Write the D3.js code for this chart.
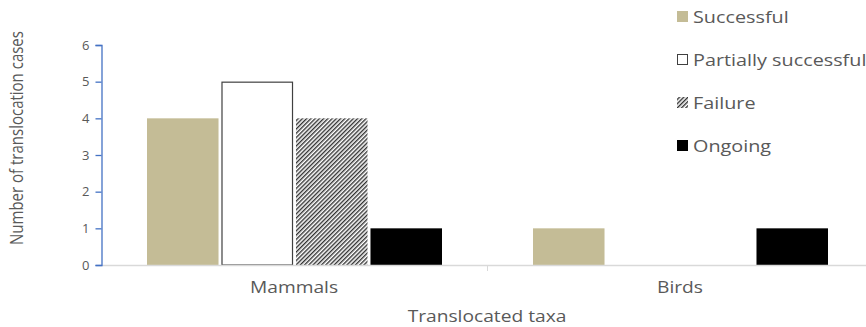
<!DOCTYPE html>
<html>
<head>
<meta charset="utf-8">
<script src="https://cdn.jsdelivr.net/npm/d3@7/dist/d3.min.js"></script>
<style>
  html, body { margin: 0; padding: 0; background: #fff; }
  svg text { font-family: "Open Sans", "Noto Sans", sans-serif; fill: #595959; }
</style>
</head>
<body>
<svg id="chart" width="866" height="327"></svg>
<script>
// Translocation outcomes by taxon
const categories = ["Mammals", "Birds"];
const seriesNames = ["Successful", "Partially successful", "Failure", "Ongoing"];
const successful = [4, 1];
const partiallySuccessful = [5, 0];
const failure = [4, 0];
const ongoing = [1, 1];
const yTicks = [0, 1, 2, 3, 4, 5, 6];

const seriesValues = [successful, partiallySuccessful, failure, ongoing];

const svg = d3.select("#chart");
const widen = 1.2; // horizontal stretch applied to horizontal labels

// Hatched fill for the failure series
const defs = svg.append("defs");
const pat = defs.append("pattern")
  .attr("id", "hatch")
  .attr("patternUnits", "userSpaceOnUse")
  .attr("width", 3).attr("height", 3)
  .attr("patternTransform", "rotate(45)");
pat.append("rect").attr("width", 3).attr("height", 3).attr("fill", "#fff");
pat.append("rect").attr("x", 0).attr("width", 1.4).attr("height", 3).attr("fill", "#333");

const styles = [
  { fill: "#c4bc96", stroke: "none" },
  { fill: "#ffffff", stroke: "#404040" },
  { fill: "url(#hatch)", stroke: "none" },
  { fill: "#000000", stroke: "none" }
];

const plotLeft = 101, plotRight = 873, plotTop = 45, plotBottom = 265;

const x0 = d3.scaleBand().domain(categories).range([plotLeft, plotRight]).padding(0);
const x1 = d3.scaleBand().domain(seriesNames)
  .range([46, x0.bandwidth() - 45]).paddingInner(0.04);
const y = d3.scaleLinear().domain([0, 6]).range([plotBottom, plotTop]);

function label(x, yy, txt, size, anchor) {
  return svg.append("text")
    .attr("transform", `translate(${x},${yy}) scale(${widen},1)`)
    .attr("text-anchor", anchor || "start")
    .attr("font-size", size)
    .text(txt);
}

// Bars
categories.forEach((cat, ci) => {
  seriesNames.forEach((s, si) => {
    const v = seriesValues[si][ci];
    if (v <= 0) return;
    const st = styles[si];
    const inset = st.stroke !== "none" ? 0.5 : 0;
    svg.append("rect")
      .attr("x", x0(cat) + x1(s) + inset)
      .attr("y", y(v) + inset)
      .attr("width", x1.bandwidth() - 2 * inset)
      .attr("height", y(0) - y(v) - inset)
      .attr("fill", st.fill)
      .attr("stroke", st.stroke)
      .attr("stroke-width", 1.2);
  });
});

// X axis baseline and category dividers
svg.append("line")
  .attr("x1", plotLeft).attr("x2", 866)
  .attr("y1", plotBottom + 0.5).attr("y2", plotBottom + 0.5)
  .attr("stroke", "#d9d9d9").attr("stroke-width", 1.5);
categories.forEach(c => {
  const bx = Math.round(x0(c) + x0.bandwidth());
  if (bx < 866) {
    svg.append("line")
      .attr("x1", bx + 0.5).attr("x2", bx + 0.5)
      .attr("y1", plotBottom).attr("y2", plotBottom + 6)
      .attr("stroke", "#d9d9d9");
  }
  label(x0(c) + x0.bandwidth() / 2, 293, c, 16, "middle");
});

// Y axis
const yAxis = svg.append("g")
  .attr("transform", `translate(${plotLeft + 0.5},0)`)
  .call(d3.axisLeft(y).tickValues(yTicks).tickSize(6).tickPadding(6).tickFormat(d3.format("d")));
yAxis.select(".domain").attr("stroke", "#4472c4").attr("stroke-width", 1.3);
yAxis.selectAll(".tick line").attr("stroke", "#4472c4").attr("stroke-width", 1.3);
yAxis.selectAll(".tick text")
  .attr("font-size", 13)
  .attr("fill", "#595959")
  .style("font-family", "'Open Sans', 'Noto Sans', sans-serif");

// Axis titles
svg.append("text")
  .attr("transform", "translate(23,138) rotate(-90) scale(1,1.15)")
  .attr("text-anchor", "middle")
  .attr("font-size", 15)
  .text("Number of translocation cases");

label(487, 322, "Translocated taxa", 16, "middle");

// Legend
const legendY = [17, 60, 103, 146];
seriesNames.forEach((s, i) => {
  const st = styles[i];
  const stroked = st.stroke !== "none";
  const g = svg.append("g").attr("transform", `translate(677,${legendY[i]})`);
  g.append("rect")
    .attr("x", stroked ? 0.5 : 0)
    .attr("y", stroked ? -5.5 : -6)
    .attr("width", stroked ? 10 : 11)
    .attr("height", stroked ? 10 : 11)
    .attr("fill", st.fill)
    .attr("stroke", st.stroke);
  label(693, legendY[i] + 6, s, 16.5);
});
</script>
</body>
</html>
